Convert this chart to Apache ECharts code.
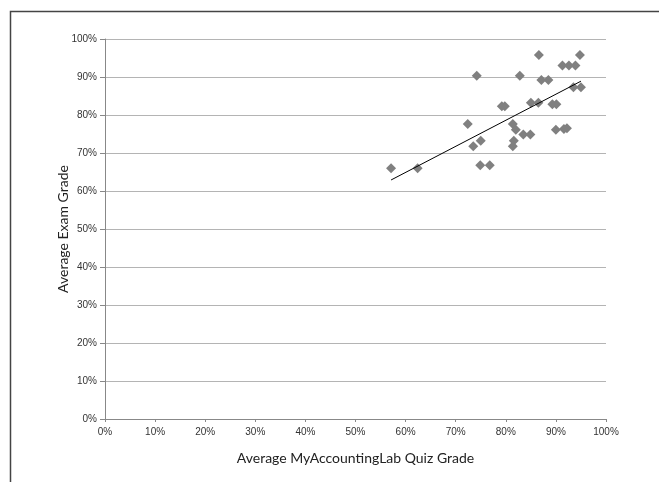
<!DOCTYPE html>
<html>
<head>
<meta charset="utf-8">
<script src="https://cdn.jsdelivr.net/npm/echarts@6/dist/echarts.min.js"></script>
<style>
  html, body { margin: 0; padding: 0; background: #fff; }
  #chart { width: 659px; height: 482px; }
</style>
</head>
<body>
<div id="chart"></div>
<script>
// quiz grade (x) vs exam grade (y), both in percent
const quizGrades = [57.1, 62.4, 72.4, 74.2, 73.5, 75.0, 74.9, 76.8, 79.2, 79.8,
  81.4, 82.0, 81.4, 81.6, 82.8, 83.5, 84.9, 85.0, 86.5, 86.6,
  87.1, 88.5, 89.3, 90.1, 90.0, 91.6, 92.2, 91.3, 92.6, 93.9,
  94.8, 93.5, 95.0]
const examGrades = [66.0, 66.0, 77.6, 90.3, 71.8, 73.2, 66.8, 66.8, 82.3, 82.3,
  77.6, 76.1, 71.8, 73.2, 90.3, 74.9, 74.9, 83.2, 83.2, 95.8,
  89.2, 89.2, 82.8, 82.8, 76.1, 76.3, 76.5, 93.0, 93.0, 93.0,
  95.8, 87.3, 87.3]
// linear trendline end points
const trendX = [57.1, 95.0]
const trendY = [62.9, 88.9]

const points = quizGrades.map((x, i) => [x, examGrades[i]])
const trend = trendX.map((x, i) => [x, trendY[i]])

const chart = echarts.init(document.getElementById('chart'))
const titleFont = 'Lato, "Open Sans", sans-serif'
const tickFont = '"Liberation Sans", Arial, sans-serif'

chart.setOption({
  animation: false,
  graphic: [{
    type: 'rect',
    shape: { x: 10.5, y: 11.5, width: 800, height: 600 },
    style: { fill: 'none', stroke: '#444', lineWidth: 1.5 },
    silent: true
  }],
  grid: { left: 105, top: 39, right: 53, bottom: 63 },
  xAxis: {
    type: 'value',
    min: 0, max: 100, interval: 10,
    name: 'Average MyAccountingLab Quiz Grade',
    nameLocation: 'middle',
    nameGap: 32,
    nameMoveOverlap: false,
    nameTextStyle: { fontFamily: titleFont, fontSize: 14, color: '#222' },
    axisLine: { show: true, lineStyle: { color: '#888', width: 1 } },
    axisTick: { show: true, length: 3, lineStyle: { color: '#888' } },
    axisLabel: {
      formatter: '{value}%', fontFamily: tickFont, fontSize: 10, color: '#333', margin: 8
    },
    splitLine: { show: false }
  },
  yAxis: {
    type: 'value',
    min: 0, max: 100, interval: 10,
    name: 'Average Exam Grade',
    nameLocation: 'middle',
    nameGap: 35,
    nameMoveOverlap: false,
    nameTextStyle: { fontFamily: titleFont, fontSize: 14, color: '#222' },
    axisLine: { show: true, lineStyle: { color: '#888', width: 1 } },
    axisTick: { show: true, length: 5, lineStyle: { color: '#888' } },
    axisLabel: {
      formatter: '{value}%', fontFamily: tickFont, fontSize: 10, color: '#333', margin: 8
    },
    splitLine: { show: true, lineStyle: { color: '#b4b4b4', width: 1 } }
  },
  series: [
    {
      type: 'scatter',
      data: points,
      symbol: 'diamond',
      symbolSize: [10, 10],
      itemStyle: { color: '#808080', opacity: 1 },
      silent: true
    },
    {
      type: 'line',
      data: trend,
      symbol: 'none',
      lineStyle: { color: '#000', width: 1 },
      silent: true,
      z: 3
    }
  ]
})
</script>
</body>
</html>
